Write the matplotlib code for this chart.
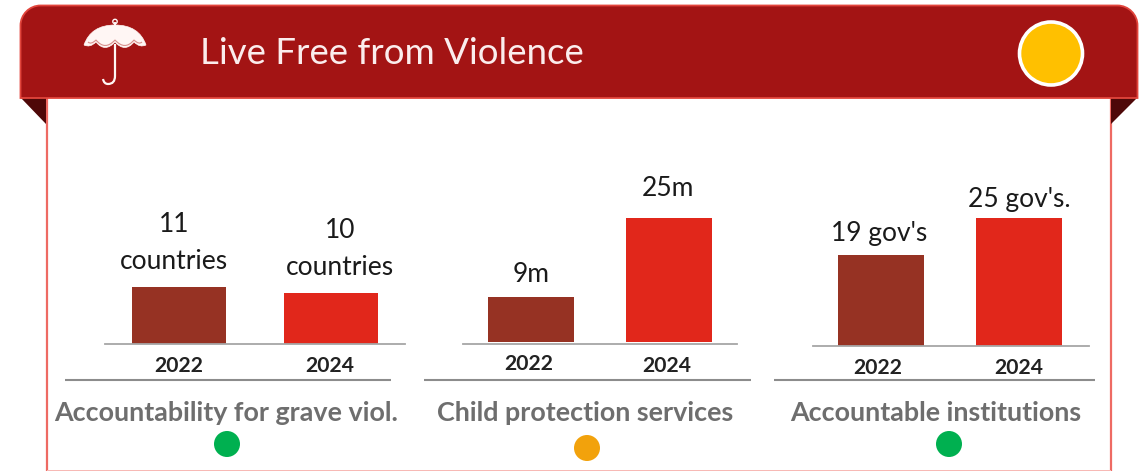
import matplotlib
matplotlib.use("Agg")
import matplotlib.pyplot as plt
from matplotlib.patches import Circle, PathPatch, Polygon, Rectangle
from matplotlib.path import Path
from matplotlib.transforms import ScaledTranslation

plt.rcParams["font.family"] = ["Lato", "DejaVu Sans"]

W, H = 1145, 471

# Data
title = "Live Free from Violence"
years = ["2022", "2024"]
grave_violations = [11, 10]
child_protection = [9, 25]
institutions = [19, 25]
grave_labels = ["11\ncountries", "10\ncountries"]
child_labels = ["9m", "25m"]
institution_labels = ["19 gov's", "25 gov's."]
panel_names = ["Accountability for grave viol.", "Child protection services", "Accountable institutions"]
panel_status = ["#00B050", "#F2A20C", "#00B050"]

# Colours
HEADER = "#A31414"
HEADER_EDGE = "#E2453C"
FOLD = "#4E0808"
BORDER = "#EE6A63"
BAR_2022 = "#963223"
BAR_2024 = "#E1271B"
RULE = "#8C8C8C"
NAME = "#6E6E6E"
ICON = "#FFF6F4"

fig = plt.figure(figsize=(W / 100, H / 100), dpi=100, facecolor="white")

# Full-figure layer measured in pixels, y running downward
canvas = fig.add_axes([0, 0, 1, 1])
canvas.set_xlim(0, W)
canvas.set_ylim(H, 0)
canvas.axis("off")

# White card under the banner, with a paler bottom edge
canvas.plot([46.5, 46.5], [96, H], color=BORDER, lw=1.6, zorder=2)
canvas.plot([1110.5, 1110.5], [96, H], color=BORDER, lw=1.6, zorder=2)
canvas.add_patch(Rectangle((46.5, 469.6), 1064, 1.4, fc="#F7B9B5", ec="none", zorder=2))

# Fold shadows at the banner ends
canvas.add_patch(Polygon([(21, 98), (46, 98), (46, 124)], fc=FOLD, ec="none", zorder=2))
canvas.add_patch(Polygon([(1111, 98), (1137, 98), (1111, 124)], fc=FOLD, ec="none", zorder=2))

# Banner with rounded top corners
left, right, top, bottom, r = 20.5, 1137.5, 5.5, 98, 20
k = 0.45 * r
banner_vertices = [
    (left, bottom), (left, top + r),
    (left, top + k), (left + k, top), (left + r, top),
    (right - r, top),
    (right - k, top), (right, top + k), (right, top + r),
    (right, bottom), (left, bottom),
]
banner_codes = [Path.MOVETO, Path.LINETO, Path.CURVE4, Path.CURVE4, Path.CURVE4, Path.LINETO,
                Path.CURVE4, Path.CURVE4, Path.CURVE4, Path.LINETO, Path.CLOSEPOLY]
canvas.add_patch(PathPatch(Path(banner_vertices, banner_codes), fc=HEADER, ec=HEADER_EDGE, lw=1.3, zorder=3))

canvas.text(200, 53, title, color="#FBEDED", fontsize=26.4, ha="left", va="center", zorder=5)
canvas.add_patch(Circle((1051, 53.5), 31.5, fc="#FFC000", ec="white", lw=2.6, zorder=5))

# Umbrella icon: canopy with scalloped hem, finial, shaft and hook
C3 = Path.CURVE3
canopy = Path(
    [(84, 45), (91, 25), (115, 25), (139, 25), (146, 45),
     (140, 48), (134, 42), (125, 53), (115, 42), (105, 53), (96, 42), (90, 48), (84, 45)],
    [Path.MOVETO, C3, C3, C3, C3, C3, C3, C3, C3, C3, C3, C3, C3],
)
canvas.add_patch(PathPatch(canopy, fc=ICON, ec=ICON, lw=0.5, zorder=5))
hem = Path(
    [(88, 42), (91, 45), (96, 40), (105, 51), (115, 40), (125, 51), (134, 40), (139, 45), (142, 42)],
    [Path.MOVETO, C3, C3, C3, C3, C3, C3, C3, C3],
)
canvas.add_patch(PathPatch(hem, fc="none", ec="#D98F8C", lw=0.8, zorder=6))
canvas.add_patch(Circle((115, 21.5), 2.2, fc="none", ec=ICON, lw=1.0, zorder=5))
canvas.plot([115, 115], [23, 27], color=ICON, lw=1.4, zorder=5)
shaft = Path([(115, 44), (115, 76), (115, 84), (108, 84), (104, 84), (103, 79)],
             [Path.MOVETO, Path.LINETO, C3, C3, C3, C3])
canvas.add_patch(PathPatch(shaft, fc="none", ec=ICON, lw=1.6, zorder=5))

# Chart panels: axis extent, baseline, bar centres and value-axis limits
panels = [
    dict(values=grave_violations, labels=grave_labels, x0=105, x1=405, base=344, centers=(179, 331),
         bar_px=94, ylim=(1.67, 36.67), label_xy=[(174, 243), (340, 249)],
         tick_xy=((179, 366.5), (330, 366.5)), rule=(65, 391), name_x=226.5, dot=(227, 444)),
    dict(values=child_protection, labels=child_labels, x0=463, x1=737, base=344, centers=(531, 669),
         bar_px=86, ylim=(-0.4, 42.6), label_xy=[(531, 275), (668, 189)],
         tick_xy=((528.5, 363.5), (666.5, 366.5)), rule=(424, 751), name_x=585.5, dot=(587, 448)),
    dict(values=institutions, labels=institution_labels, x0=813, x1=1089, base=346, centers=(881, 1019),
         bar_px=86, ylim=(3.83, 39.67), label_xy=[(879, 233), (1019, 199)],
         tick_xy=((877.5, 367.5), (1019, 367.5)), rule=(774, 1095), name_x=936, dot=(949, 444)),
]

AXES_TOP = 130
for p, name, status in zip(panels, panel_names, panel_status):
    ax = fig.add_axes([p["x0"] / W, 1 - p["base"] / H, (p["x1"] - p["x0"]) / W, (p["base"] - AXES_TOP) / H])
    ax.patch.set_alpha(0)
    spacing = p["centers"][1] - p["centers"][0]
    ax.set_xlim((p["x0"] - p["centers"][0]) / spacing, (p["x1"] - p["centers"][0]) / spacing)
    ax.set_ylim(*p["ylim"])
    ax.bar(range(len(years)), p["values"], width=p["bar_px"] / spacing, color=[BAR_2022, BAR_2024], zorder=2)

    for s in ("top", "left", "right"):
        ax.spines[s].set_visible(False)
    ax.spines["bottom"].set_color("#A6A6A6")
    ax.spines["bottom"].set_linewidth(1.3)
    ax.set_yticks([])
    ax.set_xticks(range(len(years)), years)
    ax.tick_params(axis="x", length=0, pad=0)
    for tick_label, center, (x, y) in zip(ax.get_xticklabels(), p["centers"], p["tick_xy"]):
        tick_label.set_fontsize(15.2)
        tick_label.set_fontweight("bold")
        tick_label.set_color("#222222")
        tick_label.set_va("center")
        shift = ScaledTranslation((x - center) / 100, -(y - p["base"]) / 100, fig.dpi_scale_trans)
        tick_label.set_transform(tick_label.get_transform() + shift)

    for text, (x, y) in zip(p["labels"], p["label_xy"]):
        canvas.text(x, y, text, color="#1A1A1A", fontsize=19, ha="center", va="center",
                    linespacing=1.6, zorder=6)

    canvas.plot(p["rule"], [380, 380], color=RULE, lw=1.5, solid_capstyle="butt", zorder=4)
    canvas.text(p["name_x"], 413, name, color=NAME, fontsize=19.4, fontweight="bold",
                ha="center", va="center", zorder=6)
    canvas.add_patch(Circle(p["dot"], 13, fc=status, ec="none", zorder=4))

fig.savefig("out.png", dpi=100)
